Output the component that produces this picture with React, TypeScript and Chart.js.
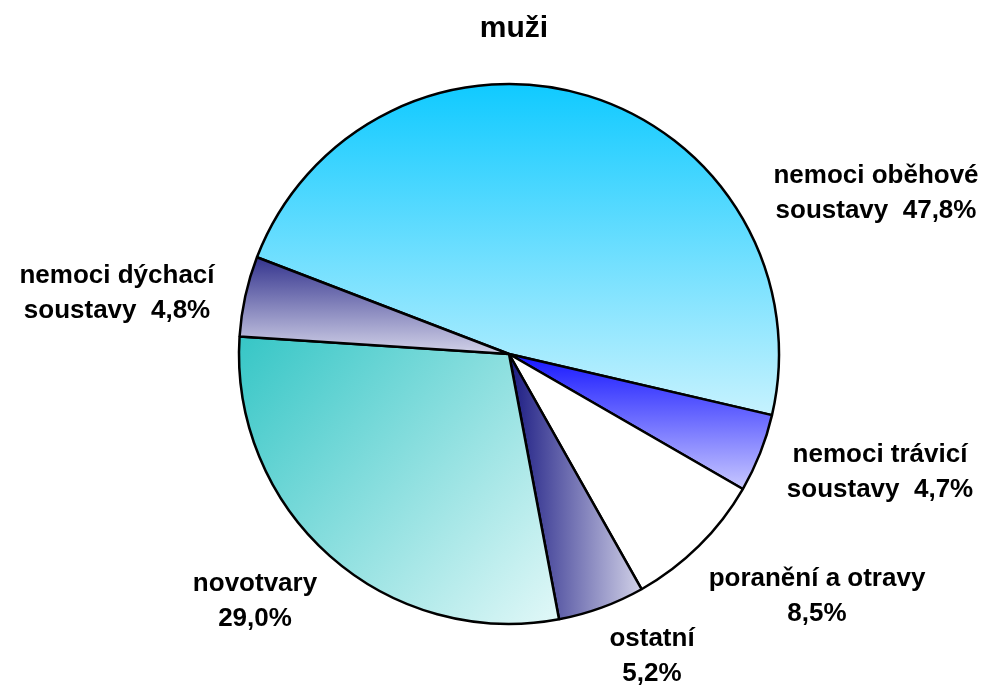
import React, { useEffect, useRef } from "react";
import { Chart, registerables } from "chart.js";

Chart.register(...registerables);

// ---- data ----
const titleText = "muži";
const categories = [
  "nemoci oběhové soustavy",
  "nemoci trávicí soustavy",
  "poranění a otravy",
  "ostatní",
  "novotvary",
  "nemoci dýchací soustavy",
];
const shares = [47.8, 4.7, 8.5, 5.2, 29.0, 4.8];
// how category names break into lines in the labels
const categoryLines = [
  ["nemoci oběhové", "soustavy"],
  ["nemoci trávicí", "soustavy"],
  ["poranění a otravy"],
  ["ostatní"],
  ["novotvary"],
  ["nemoci dýchací", "soustavy"],
];

// ---- layout / style ----
const W = 989;
const H = 687;
const PIE_RADIUS = 270;
const ROTATION = -69; // degrees, Chart.js (0 = top)
const FONT = '"Liberation Sans", Arial, Helvetica, sans-serif';
const LABEL_SIZE = 26;
const LINE_GAP = 35;
// label block centres relative to the pie centre (px)
const labelOffsets = [
  [367, -161],
  [371, 118],
  [308, 242],
  [143, 302],
  [-254, 247],
  [-392, -61],
];
// gradient fills: direction and stops
const sliceFills: { dir: string; stops: string[] }[] = [
  { dir: "v", stops: ["#10CAFF", "#C6F2FE"] },
  { dir: "v", stops: ["#1616FF", "#C8C8FF"] },
  { dir: "v", stops: ["#FFFFFF", "#FFFFFF"] },
  { dir: "h", stops: ["#1A1A82", "#D2D2E8"] },
  { dir: "d", stops: ["#36C6C6", "#E2F8F8"] },
  { dir: "v", stops: ["#34348E", "#D2D2E8"] },
];

function formatShare(v: number) {
  return v.toFixed(1).replace(".", ",") + "%";
}

function labelFor(i: number): string[] {
  const lines = categoryLines[i].slice();
  const val = formatShare(shares[i]);
  if (lines.length > 1) {
    lines[lines.length - 1] = lines[lines.length - 1] + "  " + val;
  } else {
    lines.push(val);
  }
  return lines;
}

function sectorBox(cx: number, cy: number, r: number, a0: number, a1: number) {
  const pts: number[][] = [
    [cx, cy],
    [cx + r * Math.cos(a0), cy + r * Math.sin(a0)],
    [cx + r * Math.cos(a1), cy + r * Math.sin(a1)],
  ];
  const q = Math.PI / 2;
  for (let k = Math.ceil(a0 / q); k * q < a1; k++) {
    const a = k * q;
    pts.push([cx + r * Math.cos(a), cy + r * Math.sin(a)]);
  }
  const xs = pts.map((p) => p[0]);
  const ys = pts.map((p) => p[1]);
  return {
    minX: Math.min(...xs),
    maxX: Math.max(...xs),
    minY: Math.min(...ys),
    maxY: Math.max(...ys),
  };
}

function sliceFill(ctx: any) {
  const i = ctx.dataIndex;
  const style = sliceFills[i];
  const chart = ctx.chart;
  const area = chart.chartArea;
  if (!area) return style.stops[0];
  const cx = (area.left + area.right) / 2;
  const cy = (area.top + area.bottom) / 2;
  const total = shares.reduce((a, b) => a + b, 0);
  let a0 = ((ROTATION - 90) * Math.PI) / 180;
  for (let k = 0; k < i; k++) a0 += (shares[k] / total) * Math.PI * 2;
  const a1 = a0 + (shares[i] / total) * Math.PI * 2;
  const b = sectorBox(cx, cy, PIE_RADIUS, a0, a1);
  const c2d = chart.ctx as CanvasRenderingContext2D;
  let g: CanvasGradient;
  if (style.dir === "h") g = c2d.createLinearGradient(b.minX, 0, b.maxX, 0);
  else if (style.dir === "d") g = c2d.createLinearGradient(b.minX, b.minY, b.maxX, b.maxY);
  else g = c2d.createLinearGradient(0, b.minY, 0, b.maxY);
  g.addColorStop(0, style.stops[0]);
  g.addColorStop(1, style.stops[1]);
  return g;
}

const labelPlugin = {
  id: "sliceLabels",
  afterDraw(chart: any) {
    const meta = chart.getDatasetMeta(0);
    const arc = meta.data[0];
    if (!arc) return;
    const cx = arc.x;
    const cy = arc.y;
    const c = chart.ctx as CanvasRenderingContext2D;
    c.save();
    c.fillStyle = "#000";
    c.textAlign = "center";
    c.textBaseline = "middle";
    // title
    c.font = `bold 30px ${FONT}`;
    c.fillText(titleText, cx + 5, 29);
    // labels
    c.font = `bold ${LABEL_SIZE}px ${FONT}`;
    for (let i = 0; i < shares.length; i++) {
      const lines = labelFor(i);
      const [dx, dy] = labelOffsets[i];
      const x = cx + dx;
      const y0 = cy + dy - ((lines.length - 1) * LINE_GAP) / 2;
      lines.forEach((ln, j) => c.fillText(ln, x, y0 + j * LINE_GAP));
    }
    c.restore();
  },
};

export default function App() {
  const ref = useRef<HTMLCanvasElement | null>(null);
  useEffect(() => {
    if (!ref.current) return;
    const chart = new Chart(ref.current, {
      type: "pie",
      data: {
        labels: categories,
        datasets: [
          {
            data: shares,
            backgroundColor: sliceFill as any,
            borderColor: "#000000",
            borderWidth: 2.5,
          },
        ],
      },
      options: {
        responsive: false,
        animation: false,
        events: [],
        rotation: ROTATION,
        radius: PIE_RADIUS,
        layout: { padding: { left: 29, right: 0, top: 21, bottom: 0 } },
        plugins: {
          legend: { display: false },
          tooltip: { enabled: false },
          title: { display: false },
        },
      } as any,
      plugins: [labelPlugin],
    });
    return () => chart.destroy();
  }, []);
  return (
    <div style={{ position: "fixed", left: 0, top: 0, width: W, height: H, background: "#fff" }}>
      <canvas ref={ref} width={W} height={H} style={{ display: "block" }} />
    </div>
  );
}
